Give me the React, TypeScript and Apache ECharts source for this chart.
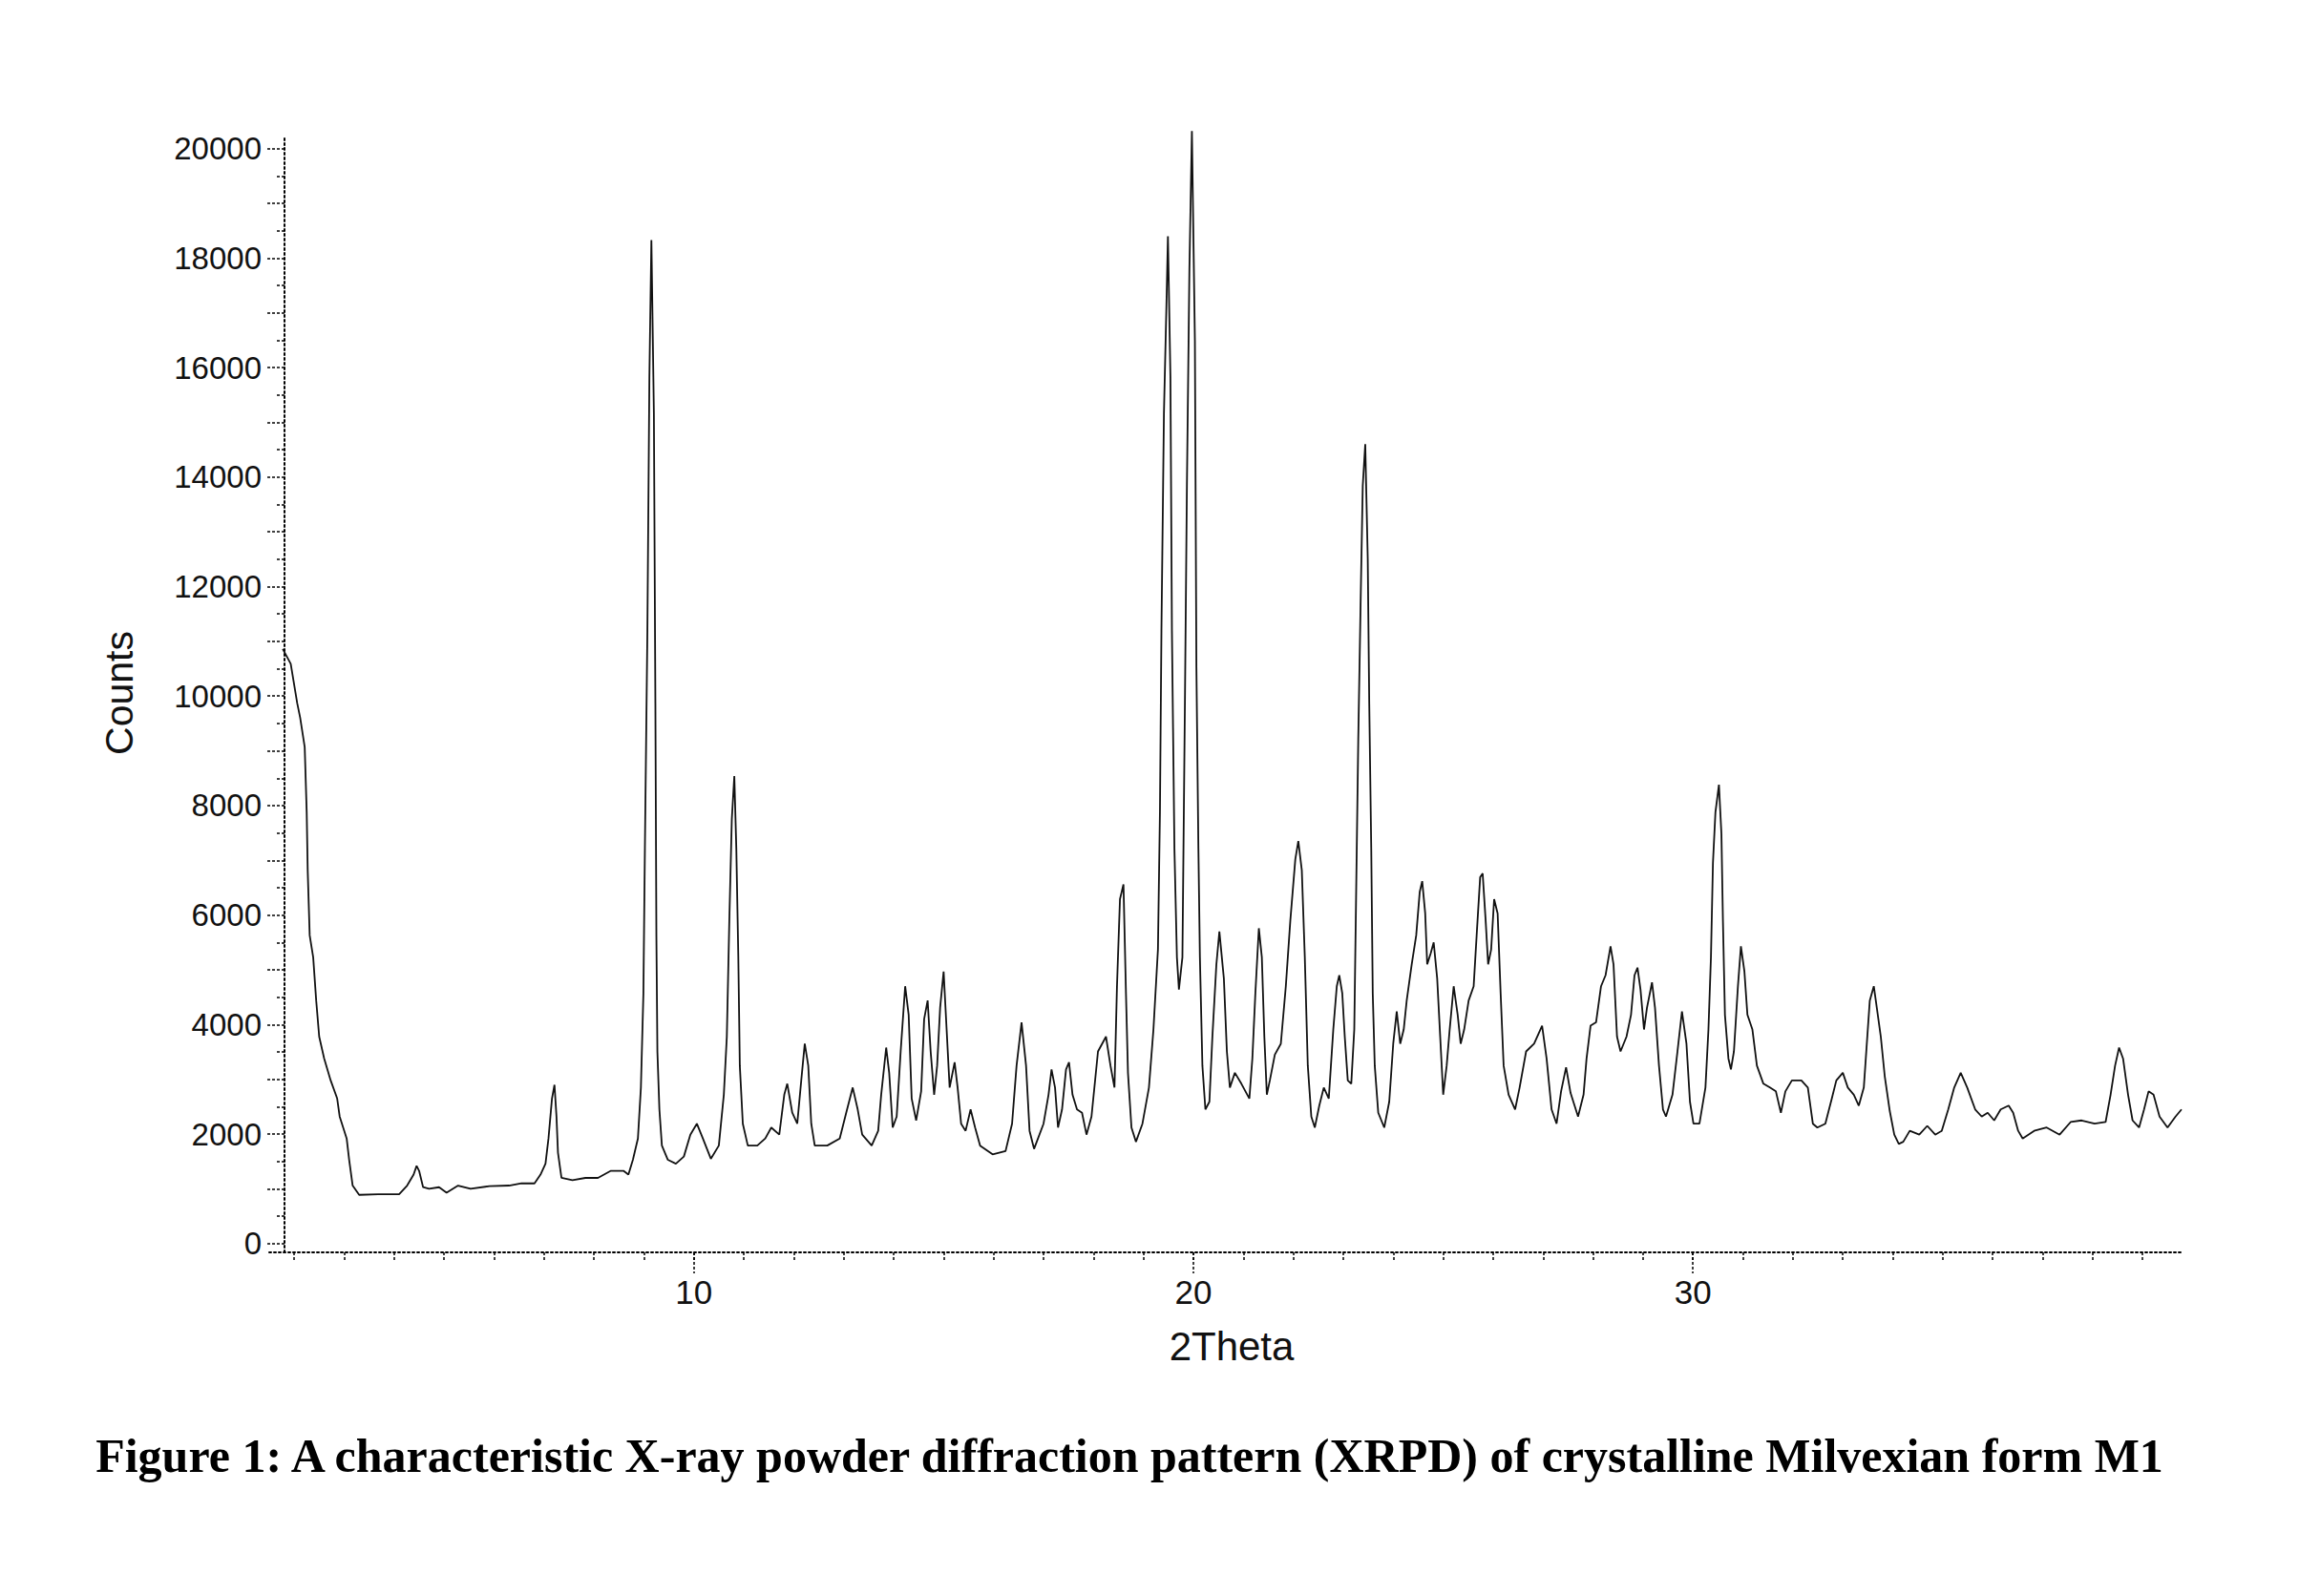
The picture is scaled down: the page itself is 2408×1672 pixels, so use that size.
import { useEffect, useRef } from "react";
import * as echarts from "echarts";

// XRPD pattern of crystalline Milvexian form M1: scan angle (°2θ) and counts
const twoTheta = [
  1.77, 1.93, 2.06, 2.12, 2.21, 2.25, 2.27, 2.31, 2.38, 2.44, 2.5, 2.6, 2.73, 2.86, 2.91, 2.98,
  3.05, 3.1, 3.17, 3.3, 3.68, 4.1, 4.26, 4.39, 4.45, 4.5, 4.58, 4.7, 4.9, 5.05, 5.28, 5.53,
  5.91, 6.3, 6.55, 6.81, 6.93, 7.03, 7.09, 7.16, 7.21, 7.25, 7.28, 7.35, 7.57, 7.83, 8.08, 8.34,
  8.59, 8.69, 8.78, 8.88, 8.94, 8.99, 9.02, 9.07, 9.11, 9.15, 9.2, 9.23, 9.25, 9.27, 9.31, 9.36,
  9.48, 9.64, 9.8, 9.93, 10.06, 10.18, 10.34, 10.5, 10.6, 10.66, 10.71, 10.76, 10.81, 10.85, 10.89, 10.92,
  10.98, 11.08, 11.27, 11.43, 11.55, 11.71, 11.81, 11.87, 11.97, 12.07, 12.15, 12.22, 12.29, 12.35, 12.42, 12.67,
  12.92, 13.05, 13.18, 13.28, 13.37, 13.56, 13.69, 13.75, 13.85, 13.91, 13.98, 14.06, 14.14, 14.23, 14.3, 14.36,
  14.45, 14.55, 14.61, 14.68, 14.74, 14.81, 14.87, 14.93, 15.0, 15.06, 15.12, 15.22, 15.28, 15.35, 15.44, 15.54,
  15.63, 15.73, 15.98, 16.24, 16.37, 16.46, 16.56, 16.65, 16.72, 16.81, 17.0, 17.1, 17.16, 17.23, 17.29, 17.37,
  17.45, 17.51, 17.58, 17.67, 17.77, 17.86, 17.96, 18.09, 18.25, 18.34, 18.42, 18.47, 18.53, 18.6, 18.65, 18.69,
  18.76, 18.85, 18.98, 19.11, 19.2, 19.29, 19.33, 19.36, 19.41, 19.46, 19.49, 19.54, 19.57, 19.62, 19.67, 19.71,
  19.78, 19.83, 19.87, 19.92, 19.97, 20.03, 20.06, 20.1, 20.13, 20.18, 20.24, 20.32, 20.38, 20.46, 20.52, 20.61,
  20.67, 20.73, 20.83, 20.96, 21.12, 21.18, 21.24, 21.31, 21.37, 21.42, 21.47, 21.53, 21.63, 21.75, 21.85, 21.94,
  22.04, 22.1, 22.17, 22.23, 22.29, 22.36, 22.43, 22.52, 22.61, 22.71, 22.8, 22.87, 22.92, 22.98, 23.03, 23.09,
  23.16, 23.22, 23.26, 23.3, 23.35, 23.39, 23.44, 23.49, 23.52, 23.56, 23.59, 23.63, 23.7, 23.82, 23.92, 24.0,
  24.07, 24.14, 24.21, 24.27, 24.37, 24.46, 24.53, 24.58, 24.64, 24.68, 24.75, 24.81, 24.88, 24.94, 25.0, 25.07,
  25.13, 25.21, 25.29, 25.35, 25.42, 25.51, 25.61, 25.67, 25.74, 25.79, 25.85, 25.9, 25.96, 26.02, 26.09, 26.15,
  26.21, 26.31, 26.44, 26.53, 26.66, 26.82, 26.98, 27.07, 27.17, 27.27, 27.36, 27.46, 27.55, 27.7, 27.81, 27.87,
  27.95, 28.06, 28.16, 28.25, 28.35, 28.41, 28.48, 28.55, 28.67, 28.76, 28.83, 28.89, 28.95, 29.02, 29.08, 29.18,
  29.24, 29.32, 29.4, 29.46, 29.59, 29.69, 29.78, 29.87, 29.94, 30.01, 30.13, 30.25, 30.31, 30.36, 30.4, 30.45,
  30.52, 30.57, 30.6, 30.64, 30.71, 30.76, 30.82, 30.9, 30.96, 31.03, 31.09, 31.19, 31.28, 31.41, 31.54, 31.66,
  31.76, 31.85, 31.98, 32.17, 32.3, 32.4, 32.49, 32.65, 32.78, 32.87, 33.0, 33.1, 33.22, 33.32, 33.42, 33.48,
  33.54, 33.62, 33.68, 33.76, 33.84, 33.94, 34.03, 34.12, 34.21, 34.34, 34.53, 34.69, 34.85, 34.98, 35.11, 35.23,
  35.36, 35.49, 35.65, 35.78, 35.9, 36.03, 36.16, 36.32, 36.41, 36.51, 36.6, 36.83, 37.08, 37.34, 37.56, 37.78,
  38.04, 38.26, 38.36, 38.45, 38.53, 38.61, 38.71, 38.8, 38.93, 39.03, 39.12, 39.22, 39.34, 39.5, 39.66, 39.78,
];

const counts = [
  10860, 10590, 9870, 9600, 9070, 7880, 6820, 5630, 5230, 4440, 3780, 3380, 2980, 2650, 2320, 2120,
  1920, 1530, 1060, 890, 900, 900, 1060, 1260, 1420, 1330, 1030, 1000, 1030, 930, 1060, 1000,
  1050, 1060, 1100, 1100, 1260, 1460, 1920, 2650, 2900, 2320, 1660, 1200, 1160, 1200, 1200, 1330,
  1330, 1260, 1530, 1920, 2850, 4570, 7220, 11190, 15820, 18330, 15160, 9870, 5630, 3510, 2450, 1790,
  1530, 1460, 1590, 1990, 2190, 1920, 1550, 1790, 2720, 3780, 5900, 7750, 8540, 7220, 5230, 3250,
  2190, 1790, 1790, 1920, 2120, 1990, 2720, 2920, 2390, 2190, 2980, 3650, 3250, 2190, 1790, 1790,
  1920, 2390, 2850, 2450, 1990, 1790, 2060, 2720, 3580, 3120, 2120, 2320, 3510, 4700, 4180, 2650,
  2250, 2780, 4100, 4440, 3510, 2720, 3250, 4310, 4970, 3910, 2850, 3310, 2850, 2190, 2060, 2450,
  2120, 1790, 1630, 1690, 2190, 3250, 4040, 3250, 2060, 1730, 2190, 2720, 3180, 2850, 2120, 2450,
  3180, 3310, 2720, 2450, 2390, 1990, 2320, 3510, 3780, 3250, 2850, 4700, 6290, 6560, 4570, 3120,
  2120, 1860, 2190, 2850, 3910, 5370, 7880, 11190, 15160, 17140, 18400, 15820, 11190, 7220, 5230, 4640,
  5230, 9870, 13840, 17800, 20320, 16480, 10530, 7220, 5230, 3250, 2450, 2590, 3780, 5100, 5700, 4840,
  3510, 2850, 3120, 2920, 2650, 3380, 4570, 5760, 5230, 3780, 2720, 2980, 3450, 3650, 4700, 5900,
  7020, 7350, 6820, 5230, 3250, 2320, 2120, 2520, 2850, 2650, 3910, 4700, 4900, 4570, 3780, 2980,
  2920, 3910, 6560, 9200, 11850, 13840, 14600, 12510, 9870, 7220, 4570, 3250, 2390, 2120, 2590, 3650,
  4240, 3650, 3910, 4440, 5100, 5630, 6420, 6620, 6030, 5100, 5300, 5500, 4840, 3780, 2720, 3250,
  3910, 4700, 4180, 3650, 3910, 4440, 4700, 5630, 6690, 6760, 5900, 5100, 5370, 6290, 6030, 4570,
  3250, 2720, 2450, 2850, 3510, 3650, 3980, 3380, 2450, 2190, 2780, 3220, 2750, 2320, 2720, 3380,
  3980, 4040, 4700, 4900, 5430, 5100, 3780, 3510, 3780, 4180, 4900, 5040, 4640, 3910, 4310, 4770,
  4310, 3250, 2450, 2320, 2720, 3510, 4240, 3650, 2590, 2190, 2190, 2850, 3910, 5230, 6950, 7880,
  8380, 7480, 5900, 4180, 3380, 3180, 3510, 4700, 5430, 4970, 4180, 3910, 3250, 2920, 2850, 2780,
  2390, 2780, 2980, 2980, 2850, 2190, 2120, 2190, 2650, 2980, 3120, 2850, 2720, 2520, 2850, 3650,
  4440, 4700, 4310, 3780, 3050, 2420, 1990, 1820, 1860, 2060, 1990, 2150, 1990, 2060, 2450, 2850,
  3120, 2850, 2450, 2320, 2390, 2250, 2450, 2520, 2390, 2060, 1920, 2060, 2120, 1990, 2220, 2250,
  2190, 2220, 2720, 3250, 3580, 3380, 2720, 2250, 2120, 2450, 2780, 2720, 2320, 2120, 2320, 2450,
];

// Axis tick and label values
const xTickValues = [2, 3, 4, 5, 6, 7, 8, 9, 10, 11, 12, 13, 14, 15, 16, 17, 18, 19, 20, 21, 22, 23, 24, 25, 26, 27, 28, 29, 30, 31, 32, 33, 34, 35, 36, 37, 38, 39];
const xLabelValues = [10, 20, 30];
const yLabelValues = [0, 2000, 4000, 6000, 8000, 10000, 12000, 14000, 16000, 18000, 20000];
const yLongTickValues = [0, 1000, 2000, 3000, 4000, 5000, 6000, 7000, 8000, 9000, 10000, 11000, 12000, 13000, 14000, 15000, 16000, 17000, 18000, 19000, 20000];
const yShortTickValues = [500, 1500, 2500, 3500, 4500, 5500, 6500, 7500, 8500, 9500, 10500, 11500, 12500, 13500, 14500, 15500, 16500, 17500, 18500, 19500];

const TITLE = "Figure 1: A characteristic X-ray powder diffraction pattern (XRPD) of crystalline Milvexian form M1";

const X_MIN = 1.5;
const X_MAX = 39.8;
const Y_MIN = -160;
const Y_MAX = 20220;

const axisFont = "'Liberation Sans', Arial, sans-serif";

export default function App() {
  const ref = useRef<HTMLDivElement>(null);

  useEffect(() => {
    if (!ref.current) return;
    const chart = echarts.init(ref.current, null, { renderer: "svg" });
    const points = twoTheta.map((t, i) => [t, counts[i]]);

    const baseX = {
      type: "value",
      min: X_MIN,
      max: X_MAX,
      position: "bottom",
      splitLine: { show: false },
    };
    const baseY = {
      type: "value",
      min: Y_MIN,
      max: Y_MAX,
      position: "left",
      offset: -16,
      splitLine: { show: false },
    };

    chart.setOption({
      animation: false,
      backgroundColor: "#ffffff",
      grid: { left: 282, right: 2408 - 2286, top: 143, bottom: 1672 - 1312, containLabel: false },
      xAxis: [
        {
          ...baseX,
          axisLine: { show: true, onZero: false, lineStyle: { color: "#000", width: 2, type: [2, 3] } },
          axisTick: { show: true, customValues: xTickValues, length: 9, lineStyle: { color: "#000", width: 1.5, type: [3, 2] } },
          axisLabel: {
            show: true,
            customValues: xLabelValues,
            margin: 24,
            fontSize: 35,
            color: "#111",
            fontFamily: axisFont,
            formatter: (v: number) => String(v),
          },
        },
        {
          ...baseX,
          axisLine: { show: false, onZero: false },
          axisTick: { show: true, customValues: xLabelValues, length: 22, lineStyle: { color: "#000", width: 1.5, type: [3, 2] } },
          axisLabel: { show: false },
        },
      ],
      yAxis: [
        {
          ...baseY,
          axisLine: { show: true, onZero: false, lineStyle: { color: "#000", width: 2, type: [2, 3] } },
          axisTick: { show: true, customValues: yShortTickValues, length: 9, lineStyle: { color: "#000", width: 1.5, type: [3, 2] } },
          axisLabel: {
            show: true,
            customValues: yLabelValues,
            margin: 24,
            fontSize: 33,
            color: "#111",
            fontFamily: axisFont,
            formatter: (v: number) => String(v),
          },
        },
        {
          ...baseY,
          axisLine: { show: false, onZero: false },
          axisTick: { show: true, customValues: yLongTickValues, length: 18, lineStyle: { color: "#000", width: 1.5, type: [3, 2] } },
          axisLabel: { show: false },
        },
      ],
      series: [
        {
          type: "line",
          xAxisIndex: 0,
          yAxisIndex: 0,
          data: points,
          showSymbol: false,
          symbol: "none",
          clip: false,
          lineStyle: { color: "#111", width: 1.8 },
        },
      ],
      graphic: [
        {
          type: "text",
          x: 125,
          y: 726,
          rotation: Math.PI / 2,
          style: {
            text: "Counts",
            fontSize: 41,
            fontFamily: axisFont,
            fill: "#111",
            align: "center",
            verticalAlign: "middle",
          },
        },
        {
          type: "text",
          x: 1290,
          y: 1410,
          style: {
            text: "2Theta",
            fontSize: 42,
            fontFamily: axisFont,
            fill: "#111",
            align: "center",
            verticalAlign: "middle",
          },
        },
        {
          type: "text",
          x: 1183,
          y: 1525,
          style: {
            text: TITLE,
            fontSize: 50,
            fontWeight: "bold",
            fontFamily: "'Liberation Serif', 'Times New Roman', serif",
            fill: "#000",
            align: "center",
            verticalAlign: "middle",
          },
        },
      ],
    });

    return () => chart.dispose();
  }, []);

  return (
    <div
      ref={ref}
      style={{ position: "fixed", left: 0, top: 0, width: 2408, height: 1672, background: "#fff" }}
    />
  );
}
